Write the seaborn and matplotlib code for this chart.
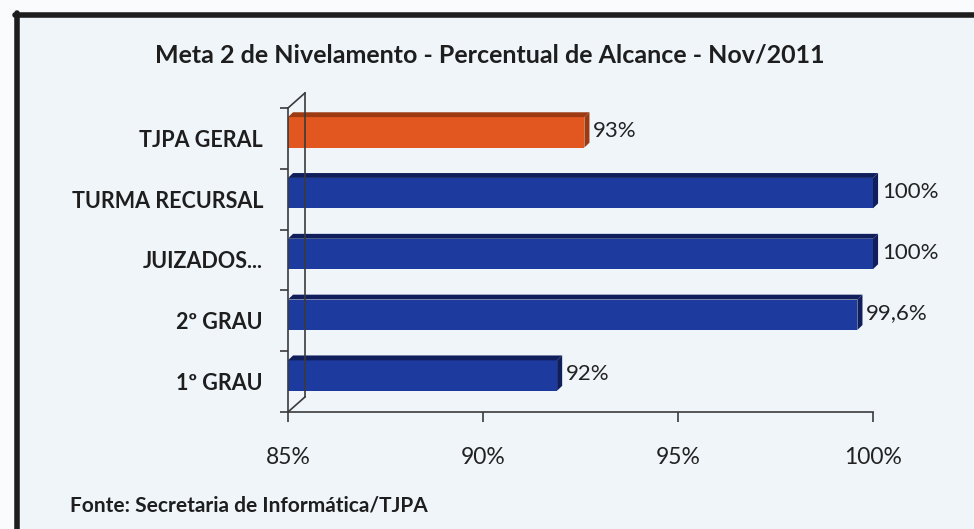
import numpy as np
import pandas as pd
import matplotlib as mpl
mpl.use("Agg")
import matplotlib.pyplot as plt
from matplotlib.patches import Polygon, Rectangle
from matplotlib.lines import Line2D
import seaborn as sns

# data
categories = ["TJPA GERAL", "TURMA RECURSAL", "JUIZADOS...", "2º GRAU", "1º GRAU"]
values = [92.6, 100.0, 100.0, 99.6, 91.9]
value_labels = ["93%", "100%", "100%", "99,6%", "92%"]
xticks = [85, 90, 95, 100]
xtick_labels = ["85%", "90%", "95%", "100%"]

title = "Meta 2 de Nivelamento - Percentual de Alcance - Nov/2011"
source = "Fonte: Secretaria de Informática/TJPA"

front = {"TJPA GERAL": "#e1571f"}
side = {"TJPA GERAL": "#9c3a12"}
blue_front, blue_side = "#1d3a9e", "#101f5c"

sns.set_theme(style="white")
plt.rcParams["font.family"] = ["Lato", "DejaVu Sans"]

df = pd.DataFrame({"cat": categories, "val": values})

fig = plt.figure(figsize=(9.74, 5.29), dpi=100, facecolor="#f9fbfc")
# scanned frame: light panel with a thick dark border top/left
fig.add_artist(Rectangle((17/974, 0), 1, 1 - 16/529, transform=fig.transFigure,
                         facecolor="#f0f5fa", edgecolor="none", zorder=-5))
fig.add_artist(Line2D([15/974, 1], [1 - 15/529] * 2, transform=fig.transFigure,
                      color="#1e1e1e", lw=4))
fig.add_artist(Line2D([17/974] * 2, [0, 1 - 13/529], transform=fig.transFigure,
                      color="#1e1e1e", lw=4))

ax = fig.add_axes([288/974, 117/529, 585/974, 304/529])
ax.set_facecolor("none")

palette = {c: front.get(c, blue_front) for c in categories}
sns.barplot(data=df, y="cat", x="val", hue="cat", palette=palette, orient="h",
            width=0.5, legend=False, ax=ax, saturation=1)
# barplot starts bars at 0; rebase them on the 85% axis floor
for p in ax.patches:
    p.set_x(85)
    p.set_width(p.get_width() - 85)
    p.set_y(p.get_y() - 0.1)
    p.set_edgecolor("none")

ax.set_xlim(85, 100)
ax.set_ylim(4.5, -0.5)

# fake 3D depth on each bar
dx, dy = 0.13, 0.08
for p, cat, lab in zip(ax.patches, categories, value_labels):
    x0, y0, w, h = p.get_x(), p.get_y(), p.get_width(), p.get_height()
    sc = side.get(cat, blue_side)
    ax.add_patch(Polygon([(x0 + w, y0), (x0 + w + dx, y0 - dy),
                          (x0 + w + dx, y0 + h - dy), (x0 + w, y0 + h)],
                         closed=True, facecolor=sc, edgecolor="none", clip_on=False))
    ax.add_patch(Polygon([(x0, y0), (x0 + dx, y0 - dy),
                          (x0 + w + dx, y0 - dy), (x0 + w, y0)],
                         closed=True, facecolor=sc, edgecolor="none", clip_on=False))
    ax.text(x0 + w + dx + 0.1, y0 + h / 2 - 0.02, lab, ha="left", va="center",
            fontsize=16, color="#222222")

# back wall / floor edges
bx, by = 0.44, 0.25
wall = dict(color="#3a3a3a", lw=1.2, clip_on=False)
ax.plot([85 + bx, 85 + bx], [4.5 - by, -0.5 - by], **wall)
ax.plot([85, 85 + bx], [-0.5, -0.5 - by], **wall)
ax.plot([85, 85 + bx], [4.5, 4.5 - by], **wall)

for s in ["top", "right"]:
    ax.spines[s].set_visible(False)
for s in ["left", "bottom"]:
    ax.spines[s].set_color("#3a3a3a")
    ax.spines[s].set_linewidth(1.2)

ax.set_xticks(xticks)
ax.set_xticklabels(xtick_labels, fontsize=16.5, color="#222222")
ax.tick_params(axis="x", bottom=True, length=7, width=1.2, color="#3a3a3a",
               direction="out", pad=18)

ax.set_yticks(range(len(categories)))
ax.set_yticklabels(categories, fontsize=15.5, color="#1e1e1e", fontweight="bold")
ax.set_yticks(np.arange(-0.5, len(categories), 1), minor=True)
ax.tick_params(axis="y", which="major", left=False, length=0, pad=18)
ax.tick_params(axis="y", which="minor", left=True, length=6, width=1.2,
               color="#3a3a3a", direction="out")
ax.set_xlabel("")
ax.set_ylabel("")

fig.text(490/974, 1 - 55/529, title, ha="center", va="center",
         fontsize=18, fontweight="bold", color="#1e1e1e")
fig.text(70/974, 1 - 505/529, source, ha="left", va="center",
         fontsize=15, fontweight="bold", color="#1e1e1e")

fig.savefig("out.png", dpi=100, facecolor=fig.get_facecolor())
